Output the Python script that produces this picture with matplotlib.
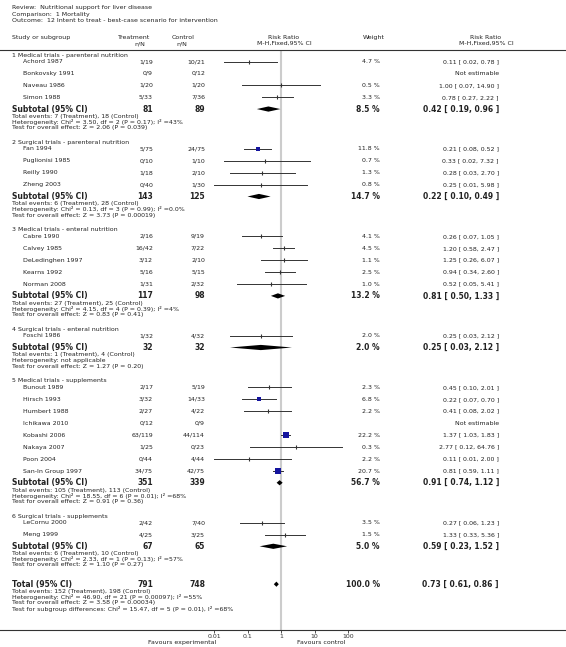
import matplotlib.pyplot as plt

# ---- data ----
review = "Review:  Nutritional support for liver disease"
comparison = "Comparison:  1 Mortality"
outcome = "Outcome:  12 Intent to treat - best-case scenario for intervention"

group_titles = [
    "1 Medical trials - parenteral nutrition",
    "2 Surgical trials - parenteral nutrition",
    "3 Medical trials - enteral nutrition",
    "4 Surgical trials - enteral nutrition",
    "5 Medical trials - supplements",
    "6 Surgical trials - supplements",
]

study_names = [
    "Achord 1987", "Bonkovsky 1991", "Naveau 1986", "Simon 1988",
    "Fan 1994", "Puglionisi 1985", "Reilly 1990", "Zheng 2003",
    "Cabre 1990", "Calvey 1985", "DeLedinghen 1997", "Kearns 1992", "Norman 2008",
    "Foschi 1986",
    "Bunout 1989", "Hirsch 1993", "Humbert 1988", "Ichikawa 2010", "Kobashi 2006",
    "Nakaya 2007", "Poon 2004", "San-In Group 1997",
    "LeCornu 2000", "Meng 1999",
]
study_group = [0, 0, 0, 0, 1, 1, 1, 1, 2, 2, 2, 2, 2, 3,
               4, 4, 4, 4, 4, 4, 4, 4, 5, 5]
treat_nN = ["1/19", "0/9", "1/20", "5/33", "5/75", "0/10", "1/18", "0/40",
            "2/16", "16/42", "3/12", "5/16", "1/31", "1/32",
            "2/17", "3/32", "2/27", "0/12", "63/119", "1/25", "0/44", "34/75",
            "2/42", "4/25"]
control_nN = ["10/21", "0/12", "1/20", "7/36", "24/75", "1/10", "2/10", "1/30",
              "9/19", "7/22", "2/10", "5/15", "2/32", "4/32",
              "5/19", "14/33", "4/22", "0/9", "44/114", "0/23", "4/44", "42/75",
              "7/40", "3/25"]
weight = [4.7, None, 0.5, 3.3, 11.8, 0.7, 1.3, 0.8,
          4.1, 4.5, 1.1, 2.5, 1.0, 2.0,
          2.3, 6.8, 2.2, None, 22.2, 0.3, 2.2, 20.7,
          3.5, 1.5]
rr = [0.11, None, 1.00, 0.78, 0.21, 0.33, 0.28, 0.25,
      0.26, 1.20, 1.25, 0.94, 0.52, 0.25,
      0.45, 0.22, 0.41, None, 1.37, 2.77, 0.11, 0.81,
      0.27, 1.33]
rr_low = [0.02, None, 0.07, 0.27, 0.08, 0.02, 0.03, 0.01,
          0.07, 0.58, 0.26, 0.34, 0.05, 0.03,
          0.10, 0.07, 0.08, None, 1.03, 0.12, 0.01, 0.59,
          0.06, 0.33]
rr_high = [0.78, None, 14.90, 2.22, 0.52, 7.32, 2.70, 5.98,
           1.05, 2.47, 6.07, 2.60, 5.41, 2.12,
           2.01, 0.70, 2.02, None, 1.83, 64.76, 2.00, 1.11,
           1.23, 5.36]

sub_treat_N = [81, 143, 117, 32, 351, 67]
sub_control_N = [89, 125, 98, 32, 339, 65]
sub_weight = [8.5, 14.7, 13.2, 2.0, 56.7, 5.0]
sub_rr = [0.42, 0.22, 0.81, 0.25, 0.91, 0.59]
sub_low = [0.19, 0.10, 0.50, 0.03, 0.74, 0.23]
sub_high = [0.96, 0.49, 1.33, 2.12, 1.12, 1.52]
sub_events = [(7, 18), (6, 28), (27, 25), (1, 4), (105, 113), (6, 10)]
sub_het = [
    "Heterogeneity: Chi\u00b2 = 3.50, df = 2 (P = 0.17); I\u00b2 =43%",
    "Heterogeneity: Chi\u00b2 = 0.13, df = 3 (P = 0.99); I\u00b2 =0.0%",
    "Heterogeneity: Chi\u00b2 = 4.15, df = 4 (P = 0.39); I\u00b2 =4%",
    "Heterogeneity: not applicable",
    "Heterogeneity: Chi\u00b2 = 18.55, df = 6 (P = 0.01); I\u00b2 =68%",
    "Heterogeneity: Chi\u00b2 = 2.33, df = 1 (P = 0.13); I\u00b2 =57%",
]
sub_test = [
    "Test for overall effect: Z = 2.06 (P = 0.039)",
    "Test for overall effect: Z = 3.73 (P = 0.00019)",
    "Test for overall effect: Z = 0.83 (P = 0.41)",
    "Test for overall effect: Z = 1.27 (P = 0.20)",
    "Test for overall effect: Z = 0.91 (P = 0.36)",
    "Test for overall effect: Z = 1.10 (P = 0.27)",
]

total_N = (791, 748)
total_weight = 100.0
total_rr = (0.73, 0.61, 0.86)
total_events = (152, 198)
total_notes = [
    "Heterogeneity: Chi\u00b2 = 46.90, df = 21 (P = 0.00097); I\u00b2 =55%",
    "Test for overall effect: Z = 3.58 (P = 0.00034)",
    "Test for subgroup differences: Chi\u00b2 = 15.47, df = 5 (P = 0.01), I\u00b2 =68%",
]

ticks = [0.01, 0.1, 1, 10, 100]
tick_labels = ["0.01", "0.1", "1", "10", "100"]

# ---- figure setup ----
W, H = 566, 647
TOP, BOT = 50, 630          # header rule and axis rule (pixels from top)
X_ONE, DECADE = 281, 33.5   # pixel of RR = 1 and pixels per decade

plt.rcParams['font.family'] = 'DejaVu Sans'
fig = plt.figure(figsize=(W / 100, H / 100), dpi=100)
ax = fig.add_axes([0, (H - BOT) / H, 1, (BOT - TOP) / H])
ax.set_xscale('log')
ax.set_xlim(10 ** (-X_ONE / DECADE), 10 ** ((W - X_ONE) / DECADE))
ax.set_ylim(BOT, TOP)
ax.set_yticks([])
ax.set_xticks(ticks)
ax.set_xticklabels(tick_labels)
ax.minorticks_off()
ax.tick_params(axis='x', length=2, width=0.6, labelsize=4.5, pad=1,
               colors='#333333')
for s in ['left', 'right']:
    ax.spines[s].set_visible(False)
for s in ['top', 'bottom']:
    ax.spines[s].set_linewidth(0.8)
    ax.spines[s].set_color('#333333')
ax.axvline(1, color='#cccccc', lw=1.5, zorder=0)

tr = ax.get_yaxis_transform()
TXT = '#222222'
FS = 4.5
FSB = 5.5


def put(x, y, s, ha='left', size=FS, bold=False):
    ax.text(x / W, y, s, transform=tr, ha=ha, va='center', fontsize=size,
            color=TXT, fontweight='bold' if bold else 'normal')


def fmt_ci(e, l, h):
    return "%.2f [ %.2f, %.2f ]" % (e, l, h)


# header
put(12, 8, review)
put(12, 14.5, comparison)
put(12, 21, outcome)
put(12, 37.5, "Study or subgroup")
put(134, 37.5, "Treatment", ha='center')
put(140, 43.5, "n/N", ha='center')
put(183, 37.5, "Control", ha='center')
put(182, 43.5, "n/N", ha='center')
put(284, 37.5, "Risk Ratio", ha='center')
put(284, 43.5, "M-H,Fixed,95% CI", ha='center')
put(374, 37.5, "Weight", ha='center')
put(486, 37.5, "Risk Ratio", ha='center')
put(486, 43.5, "M-H,Fixed,95% CI", ha='center')

X_NAME, X_TRT, X_CTL, X_W, X_RR = 23, 153, 205, 380, 499


def diamond(y, e, l, h, half=2.6):
    ax.fill([l, e, h, e], [y, y - half, y, y + half], color='black', lw=0,
            zorder=3)


# rows
y = 55
for g, title in enumerate(group_titles):
    put(12, y, title)
    y += 6.5
    for i in [k for k, gg in enumerate(study_group) if gg == g]:
        put(X_NAME, y, study_names[i])
        put(X_TRT, y, treat_nN[i], ha='right')
        put(X_CTL, y, control_nN[i], ha='right')
        if rr[i] is None:
            put(X_RR, y, "Not estimable", ha='right')
        else:
            put(X_W, y, "%.1f %%" % weight[i], ha='right')
            put(X_RR, y, fmt_ci(rr[i], rr_low[i], rr_high[i]), ha='right')
            ax.plot([rr_low[i], rr_high[i]], [y, y], color='#333333', lw=0.7,
                    zorder=2)
            if weight[i] >= 5:
                side = 1.3 * weight[i] ** 0.5 * 0.72
                ax.plot(rr[i], y, 's', ms=side, color='#14149e', mew=0, zorder=3)
            else:
                ax.plot(rr[i], y, '|', ms=2.4, mew=0.8, color='#333333', zorder=3)
        y += 11.95
    y -= 0.25
    put(12, y, "Subtotal (95% CI)", size=FSB, bold=True)
    put(X_TRT, y, str(sub_treat_N[g]), ha='right', size=FSB, bold=True)
    put(X_CTL, y, str(sub_control_N[g]), ha='right', size=FSB, bold=True)
    put(X_W, y, "%.1f %%" % sub_weight[g], ha='right', size=FSB, bold=True)
    put(X_RR, y, fmt_ci(sub_rr[g], sub_low[g], sub_high[g]), ha='right',
        size=FSB, bold=True)
    diamond(y, sub_rr[g], sub_low[g], sub_high[g])
    y += 7.3
    put(12, y, "Total events: %d (Treatment), %d (Control)" % sub_events[g])
    y += 5.7
    put(12, y, sub_het[g])
    y += 5.7
    put(12, y, sub_test[g])
    y += 14.7

y += 4.5
put(12, y, "Total (95% CI)", size=FSB, bold=True)
put(X_TRT, y, str(total_N[0]), ha='right', size=FSB, bold=True)
put(X_CTL, y, str(total_N[1]), ha='right', size=FSB, bold=True)
put(X_W, y, "%.1f %%" % total_weight, ha='right', size=FSB, bold=True)
put(X_RR, y, fmt_ci(*total_rr), ha='right', size=FSB, bold=True)
diamond(y, *total_rr)
y += 7.3
put(12, y, "Total events: %d (Treatment), %d (Control)" % total_events)
for note in total_notes:
    y += 5.7
    put(12, y, note)

put(216, 642.5, "Favours experimental", ha='right')
put(297, 642.5, "Favours control")

fig.savefig("out.png", dpi=100)
